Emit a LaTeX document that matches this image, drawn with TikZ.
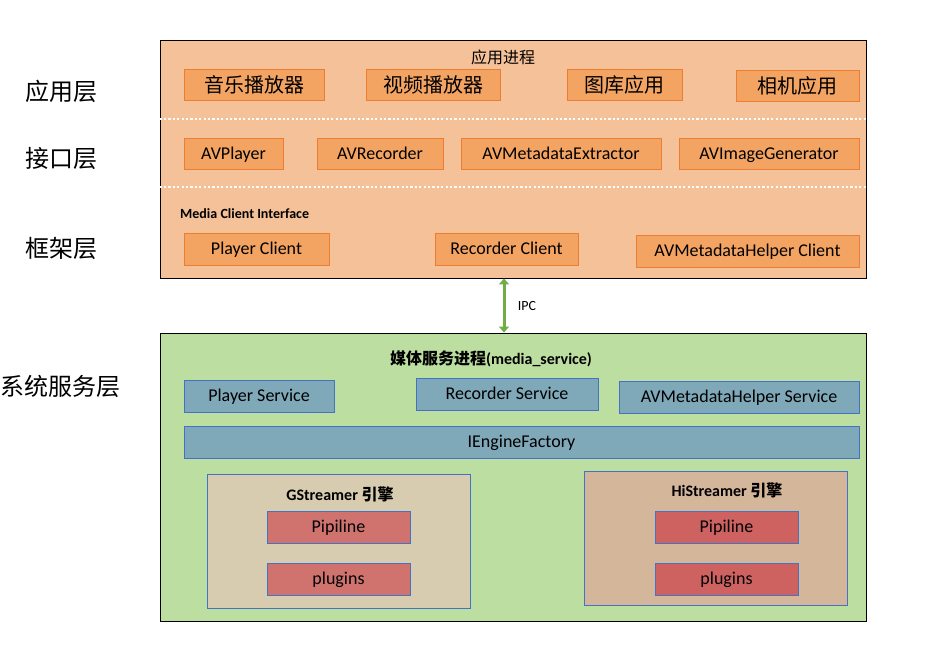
\documentclass[tikz,border=0pt]{standalone}
\usepackage{fontspec}
\setmainfont{Carlito}
\newfontfamily\cjk{Noto Sans CJK SC}
\usepackage{xcolor}
\usetikzlibrary{arrows.meta, positioning, calc}
\definecolor{apppeach}{RGB}{245,193,152}
\definecolor{orfill}{RGB}{244,164,98}
\definecolor{orline}{RGB}{237,125,49}
\definecolor{svcgreen}{RGB}{188,223,161}
\definecolor{bluefill}{RGB}{127,168,184}
\definecolor{blueline}{RGB}{68,114,196}
\definecolor{gsfill}{RGB}{216,204,176}
\definecolor{hsfill}{RGB}{212,182,155}
\definecolor{gsred}{RGB}{208,115,111}
\definecolor{hsred}{RGB}{205,98,97}
\definecolor{ipcgreen}{RGB}{112,173,71}

\tikzset{
  layer/.style={draw=black, line width=0.9pt, inner sep=0pt},
  orbox/.style={draw=orline, fill=orfill, line width=0.8pt, inner sep=0pt, minimum height=31pt,
    text height=11.6pt, text depth=0pt, font=\fontsize{18}{20}\selectfont},
  cnbox/.style={orbox, text height=15.2pt, font=\cjk\fontsize{20}{22}\selectfont},
  bluebox/.style={draw=blueline, fill=bluefill, line width=0.8pt, inner sep=0pt, minimum height=32pt,
    text height=11.6pt, text depth=0pt, font=\fontsize{18}{20}\selectfont},
  enginebox/.style={draw=blueline, line width=0.8pt, inner sep=0pt, minimum width=263pt, minimum height=134pt},
  redbox/.style={draw=blueline, line width=0.8pt, inner sep=0pt, minimum width=143pt, minimum height=32pt,
    text height=11.6pt, text depth=0pt, font=\fontsize{18}{20}\selectfont},
  sideword/.style={font=\cjk\fontsize{24}{26}\selectfont},
  sepline/.style={white, line width=2.6pt, dash pattern=on 2.2pt off 2.2pt},
  ipc/.style={ipcgreen, line width=3pt, {Triangle[width=10pt,length=6pt]}-{Triangle[width=10pt,length=6pt]}}
}

\begin{document}
\begin{tikzpicture}[x=1pt, y=-1pt]
    \useasboundingbox (0,0) rectangle (942,654);

    % Layer names
    \node[sideword] (lapp) at (61,91) {应用层};
    \node[sideword] (lapi) at (61,158) {接口层};
    \node[sideword] (lfw) at (61,248) {框架层};
    \node[sideword] (lsys) at (61,386) {系统服务层};

    % App process
    \node[layer, fill=apppeach, minimum width=706pt, minimum height=238pt] (app) at (513,159) {};
    \node[font=\cjk\fontsize{16}{18}\selectfont] (apptitle) at (503,57) {应用进程};
    \draw[sepline] (app.west |- 0,119) -- (app.east |- 0,119);
    \draw[sepline] (app.west |- 0,187) -- (app.east |- 0,187);

    \foreach \nm/\cx/\cy/\w/\txt in {music/254/84.5/140/音乐播放器, video/433/84.5/134/视频播放器,
        gallery/624.5/84.5/115/图库应用, camera/797.5/85.5/123/相机应用}
        \node[cnbox, minimum width=\w pt] (\nm) at (\cx,\cy) {\txt};

    \foreach \nm/\cx/\cy/\w/\txt in {avp/233.5/153.5/99/AVPlayer, avr/380/153.5/126/AVRecorder,
        avme/561/154/200/AVMetadataExtractor, avig/769/154/180/AVImageGenerator}
        \node[orbox, minimum width=\w pt] (\nm) at (\cx,\cy) {\txt};

    \node[anchor=west, inner sep=0pt, font=\bfseries\fontsize{14}{16}\selectfont] (mci) at (180,214) {Media Client Interface};
    \foreach \nm/\cx/\cy/\w/\txt in {pc/256.5/249/145/Player Client, rc/506.5/249/143/Recorder Client,
        mhc/747.5/251/223/AVMetadataHelper Client}
        \node[orbox, minimum width=\w pt, minimum height=32pt] (\nm) at (\cx,\cy) {\txt};

    % Media service process
    \node[layer, fill=svcgreen, minimum width=706pt, minimum height=288pt] (svc) at (513,477) {};
    \node[font=\bfseries\fontsize{16}{18}\selectfont] (svctitle) at (491,359) {{\cjk 媒体服务进程}(media\_service)};

    \foreach \nm/\cx/\cy/\w/\txt in {ps/259/396/150/Player Service, rs/507/394/182/Recorder Service,
        mhs/739/397/240/AVMetadataHelper Service, ief/521.5/442/675/IEngineFactory}
        \node[bluebox, minimum width=\w pt] (\nm) at (\cx,\cy) {\txt};

    % Engines
    \node[enginebox, fill=gsfill] (gst) at (338.5,541) {};
    \node[font=\bfseries\fontsize{16}{18}\selectfont] (gsttitle) at (340,494) {GStreamer {\cjk 引擎}};
    \node[redbox, fill=gsred] (gpipe) at (338.5,527) {Pipiline};
    \node[redbox, fill=gsred] (gplug) at (338.5,579) {plugins};

    \node[enginebox, fill=hsfill] (hst) at (715.5,538) {};
    \node[font=\bfseries\fontsize{16}{18}\selectfont] (hsttitle) at (727,490) {HiStreamer {\cjk 引擎}};
    \node[redbox, fill=hsred] (hpipe) at (726.5,527) {Pipiline};
    \node[redbox, fill=hsred] (hplug) at (726.5,579) {plugins};

    % IPC
    \draw[ipc] ([xshift=-9pt]app.south) -- node[right=9pt, black, font=\fontsize{14}{16}\selectfont] (ipclabel) {IPC} ([xshift=-9pt]svc.north);
\end{tikzpicture}
\end{document}
